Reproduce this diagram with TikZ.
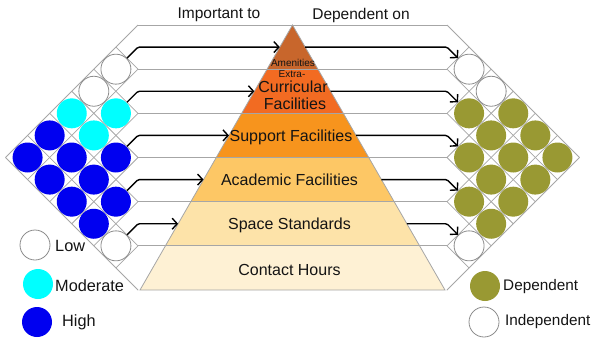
\documentclass[tikz,border=0pt]{standalone}
\usepackage{fontspec}
\setmainfont{Liberation Sans}
\usetikzlibrary{arrows.meta}
\definecolor{gridgray}{HTML}{A6A6A6}
\definecolor{circgray}{HTML}{8C8C8C}
\definecolor{lay1}{HTML}{C8662C}
\definecolor{lay2}{HTML}{F26B22}
\definecolor{lay3}{HTML}{F7941D}
\definecolor{lay4}{HTML}{FDC765}
\definecolor{lay5}{HTML}{FDE3A9}
\definecolor{lay6}{HTML}{FEF1D4}
\definecolor{cyanc}{HTML}{00FFFF}
\definecolor{bluec}{HTML}{0000F0}
\definecolor{olivec}{HTML}{999933}
\definecolor{txt}{HTML}{141414}
\begin{document}
\begin{tikzpicture}[x=1bp,y=-1bp,
  gridline/.style={draw=gridgray, line width=0.8bp},
  conn/.style={draw=black, line width=1.4bp, rounded corners=1.5bp,
    -{Straight Barb[length=5bp,width=11bp,line width=1.4bp]}},
  dot/.style={circle, minimum size=30bp, inner sep=0pt},
  lowdot/.style={dot, fill=white, draw=circgray, line width=0.8bp},
  moddot/.style={dot, fill=cyanc},
  highdot/.style={dot, fill=bluec},
  depdot/.style={dot, fill=olivec},
  lbl/.style={font=\fontsize{16bp}{18bp}\selectfont, text=txt, inner sep=0pt},
  ttl/.style={font=\fontsize{15.5bp}{18bp}\selectfont, text=txt, inner sep=0pt},
  leg/.style={font=\fontsize{16.3bp}{18bp}\selectfont, text=txt, inner sep=0pt, anchor=west},
  legr/.style={font=\fontsize{15.3bp}{18bp}\selectfont, text=txt, inner sep=0pt, anchor=west},
  small/.style={font=\fontsize{10bp}{11bp}\selectfont, text=txt, inner sep=0pt}]
\useasboundingbox (0,0) rectangle (595,340);
\def\h{44.1667}
\def\xL{138}
\def\xR{447}
% pyramid layers
\foreach \k/\col in {0/lay1,1/lay2,2/lay3,3/lay4,4/lay5,5/lay6}{
  \pgfmathsetmacro\ya{25+\k*\h}
  \pgfmathsetmacro\yb{25+(\k+1)*\h}
  \pgfmathsetmacro\la{292.5-(\ya-25)*0.57547}
  \pgfmathsetmacro\ra{292.5+(\ya-25)*0.57547}
  \pgfmathsetmacro\lb{292.5-(\yb-25)*0.57547}
  \pgfmathsetmacro\rb{292.5+(\yb-25)*0.57547}
  \fill[\col] (\la,\ya) -- (\ra,\ya) -- (\rb,\yb) -- (\lb,\yb) -- cycle;
}
% grid
\foreach \k in {0,...,6}{
  \pgfmathsetmacro\yk{25+\k*\h}
  \pgfmathsetmacro\td{(290-\yk)/2}
  \pgfmathsetmacro\tu{(\yk-25)/2}
  \draw[gridline] (\xL-\tu,\yk-\tu) -- (\xL,\yk) -- (\xL-\td,\yk+\td);
  \draw[gridline] (\xR+\tu,\yk-\tu) -- (\xR,\yk) -- (\xR+\td,\yk+\td);
}
\foreach \k in {0,...,5}{
  \pgfmathsetmacro\yk{25+\k*\h}
  \draw[gridline] (\xL,\yk) -- (\xR,\yk);
}
\draw[gridline] (292.5,25) -- (140,290) -- (445,290) -- cycle;
% circles
\foreach \r/\s/\sty in {0/1/lowdot,0/2/lowdot,4/5/lowdot,0/3/moddot,1/2/moddot,1/3/moddot,
  0/4/highdot,0/5/highdot,1/4/highdot,1/5/highdot,2/3/highdot,2/4/highdot,2/5/highdot,3/4/highdot,3/5/highdot}{
  \pgfmathsetmacro\cx{\xL-(\s-\r)*\h/2}
  \pgfmathsetmacro\cy{25+\h/2+(\r+\s)*\h/2}
  \node[\sty] (L\r\s) at (\cx,\cy) {};
}
\foreach \r/\s/\sty in {0/1/lowdot,0/2/lowdot,4/5/lowdot,0/3/depdot,1/2/depdot,1/3/depdot,
  0/4/depdot,0/5/depdot,1/4/depdot,1/5/depdot,2/3/depdot,2/4/depdot,2/5/depdot,3/4/depdot,3/5/depdot}{
  \pgfmathsetmacro\cx{\xR+(\s-\r)*\h/2}
  \pgfmathsetmacro\cy{25+\h/2+(\r+\s)*\h/2}
  \node[\sty] (R\r\s) at (\cx,\cy) {};
}
% arrows
\foreach \r in {0,...,4}{
  \pgfmathsetmacro\c{25+\h/2+\r*\h}
  \pgfmathsetmacro\pl{292.5-(\c-25)*0.57547}
  \pgfmathsetmacro\pr{292.5+(\c-25)*0.57547}
  \coordinate (la\r) at (\xL-11,\c+11);
  \coordinate (lb\r) at (\xL,\c);
  \coordinate (lc\r) at (\pl,\c);
  \coordinate (rc\r) at (\pr,\c);
  \coordinate (rb\r) at (\xR,\c);
  \coordinate (ra\r) at (\xR+11,\c+11);
  \draw[conn] (la\r) -- (lb\r) -- (lc\r);
  \draw[conn] (rc\r) -- (rb\r) -- (ra\r);
}
% pyramid texts
\node[small] (amen) at (293,63) {Amenities};
\node[small] (extra) at (292,74) {Extra-};
\node[lbl] (curr) at (293,87) {Curricular};
\node[lbl] (fac) at (295,104) {Facilities};
\node[lbl] (supp) at (291,137) {Support Facilities};
\node[lbl] (acad) at (289.5,179.5) {Academic Facilities};
\node[lbl] (space) at (289.5,225) {Space Standards};
\node[lbl] (cont) at (289.5,270) {Contact Hours};
% titles
\node[ttl] (imp) at (219,15) {Important to};
\node[ttl] (dep) at (361,15) {Dependent on};
% legend
\node[lowdot] (lgLow) at (35,245) {};
\node[leg] (tLow) at (55,246) {Low};
\node[moddot] (lgMod) at (38,284) {};
\node[leg] (tMod) at (55,286) {Moderate};
\node[highdot] (lgHigh) at (37,322) {};
\node[leg] (tHigh) at (62,322) {High};
\node[depdot] (lgDep) at (485,286) {};
\node[legr] (tDep) at (503,287) {Dependent};
\node[lowdot] (lgInd) at (484,322) {};
\node[legr] (tInd) at (505,322) {Independent};
\end{tikzpicture}
\end{document}
